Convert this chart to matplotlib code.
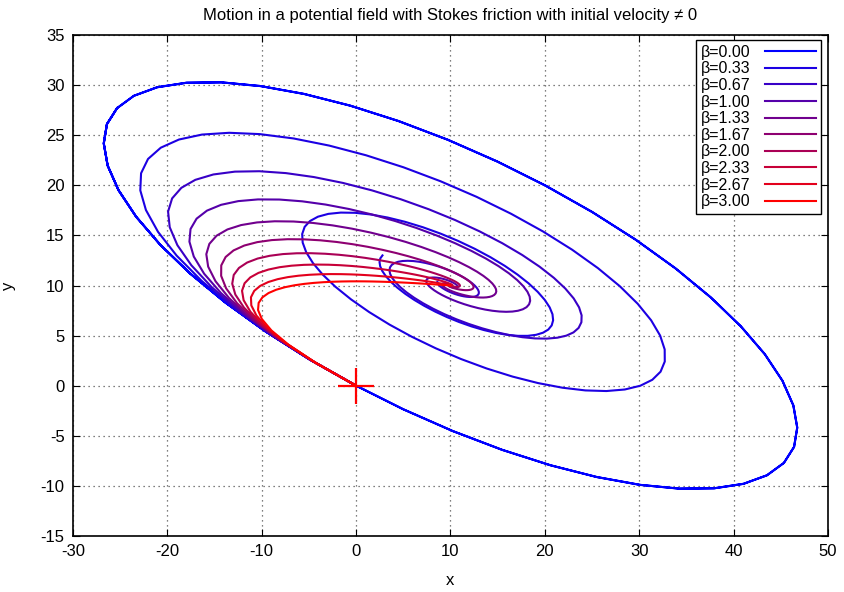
import numpy as np
import matplotlib
matplotlib.use("Agg")
import matplotlib.pyplot as plt
from matplotlib.colors import LinearSegmentedColormap

# Damping coefficients of the family of trajectories
betas = [0.00, 0.33, 0.67, 1.00, 1.33, 1.67, 2.00, 2.33, 2.67, 3.00]
beta_labels = ["β=0.00", "β=0.33", "β=0.67", "β=1.00", "β=1.33",
               "β=1.67", "β=2.00", "β=2.33", "β=2.67", "β=3.00"]

# Model parameters: isotropic harmonic potential centred at `center`
omega_sq = 2.0
center = [10.0, 10.0]
start = [0.0, 0.0]
v_start = [-50.0, 25.0]
t_end = 10.0
n_samples = 100

x_ticks = [-30, -20, -10, 0, 10, 20, 30, 40, 50]
y_ticks = [-15, -10, -5, 0, 5, 10, 15, 20, 25, 30, 35]


def trajectory(beta, t):
    """Solution of r'' = -omega^2 (r - c) - beta r' for r(0)=start, r'(0)=v_start."""
    disc = np.sqrt(complex(beta * beta / 4.0 - omega_sq))
    l1 = -beta / 2.0 + disc
    l2 = -beta / 2.0 - disc
    out = []
    for k in range(2):
        u0 = start[k] - center[k]
        v0 = v_start[k]
        b = (v0 - l1 * u0) / (l2 - l1)
        a = u0 - b
        u = a * np.exp(l1 * t) + b * np.exp(l2 * t)
        out.append(center[k] + u.real)
    return out


cmap = LinearSegmentedColormap.from_list("br", ["#0000ff", "#ff0000"])

plt.rcParams["font.family"] = ["Liberation Sans", "DejaVu Sans"]
plt.rcParams["axes.unicode_minus"] = False
fig = plt.figure(figsize=(8.45, 5.92), dpi=100)
ax = fig.add_axes([73 / 845, 1 - 536 / 592, (828 - 73) / 845, (536 - 35) / 592])

t = np.linspace(0.0, t_end, n_samples)
n = len(betas)
for i, (b, lab) in enumerate(zip(betas, beta_labels)):
    x, y = trajectory(b, t)
    ax.plot(x, y, color=cmap(i / (n - 1)), lw=1.5, label=lab)

ax.plot([start[0]], [start[1]], marker="+", color="red", markersize=26,
        markeredgewidth=1.6, linestyle="none")

ax.set_xlim(-30, 50)
ax.set_ylim(-15, 35)
ax.set_xticks(x_ticks)
ax.set_yticks(y_ticks)
ax.tick_params(direction="in", top=True, right=True, length=5, labelsize=12,
               pad=6)
ax.grid(True, color="#555555", linestyle=(0, (1, 3)), linewidth=0.9)
for s in ax.spines.values():
    s.set_linewidth(1.2)

ax.set_xlabel("x", fontsize=12, labelpad=10)
ax.set_ylabel("y", fontsize=12)
ax.yaxis.set_label_coords(-0.075, 0.5)
ax.set_title("Motion in a potential field with Stokes friction with initial velocity \u2260 0",
             fontsize=12, pad=11)

leg = ax.legend(loc="upper right", bbox_to_anchor=(0.9907, 0.990),
                borderaxespad=0, markerfirst=False, fancybox=False,
                edgecolor="black", framealpha=1, fontsize=11.5,
                handlelength=3.2, handletextpad=0.9, labelspacing=0.1,
                borderpad=0.3)
leg.get_frame().set_linewidth(1.0)

fig.savefig("out.png", dpi=100)
